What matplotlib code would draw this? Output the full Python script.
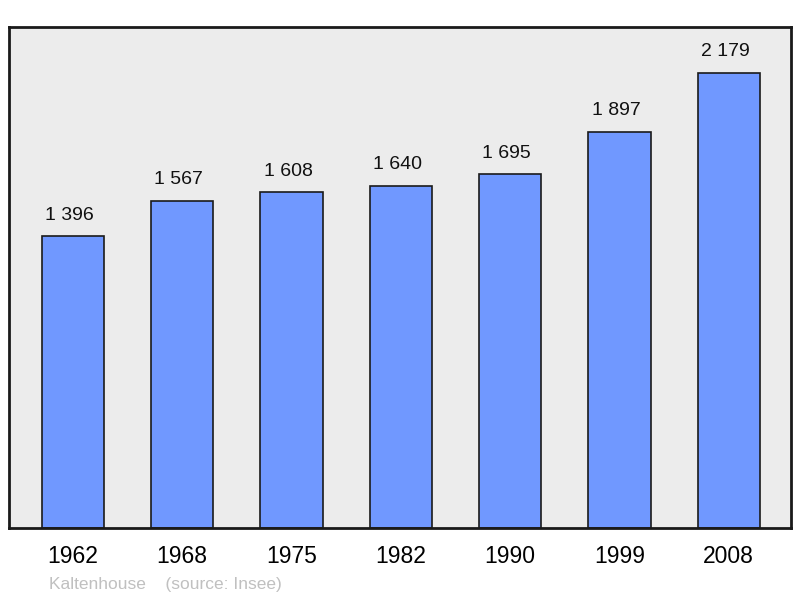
import matplotlib
matplotlib.use("Agg")
import matplotlib.pyplot as plt

years = ["1962", "1968", "1975", "1982", "1990", "1999", "2008"]
population = [1396, 1567, 1608, 1640, 1695, 1897, 2179]
value_labels = ["1 396", "1 567", "1 608", "1 640", "1 695", "1 897", "2 179"]
commune = "Kaltenhouse"
source = "(source: Insee)"

plt.rcParams['font.family'] = ['Liberation Sans', 'DejaVu Sans']

fig = plt.figure(figsize=(8, 5.98), dpi=100)
ax = fig.add_axes([9/800, 70/598, 782/800, 501/598])
ax.set_facecolor('#ececec')

x = list(range(len(years)))
ax.bar(x, population, width=0.57, color='#7098ff', edgecolor='#1a1a1a', linewidth=1.2, zorder=2)

for xi, v, lab in zip(x, population, value_labels):
    ax.annotate(lab, (xi, v), xytext=(-2.5, 9), textcoords='offset points',
                ha='center', va='bottom', fontsize=14, color='#111111')

ax.set_xlim(-0.585, 6.57)
ax.set_ylim(0, 2399)
ax.set_yticks([])
ax.set_xticks(x)
ax.set_xticklabels(years, fontsize=16.5)
ax.tick_params(axis='x', length=0, pad=12)
for s in ax.spines.values():
    s.set_linewidth(2)
    s.set_color('#1a1a1a')

fig.text(49/800, 1 - 584/598, commune + "    " + source, fontsize=12.5, color='#c0c0c0', va='center', ha='left')

fig.savefig('out.png', dpi=100)
